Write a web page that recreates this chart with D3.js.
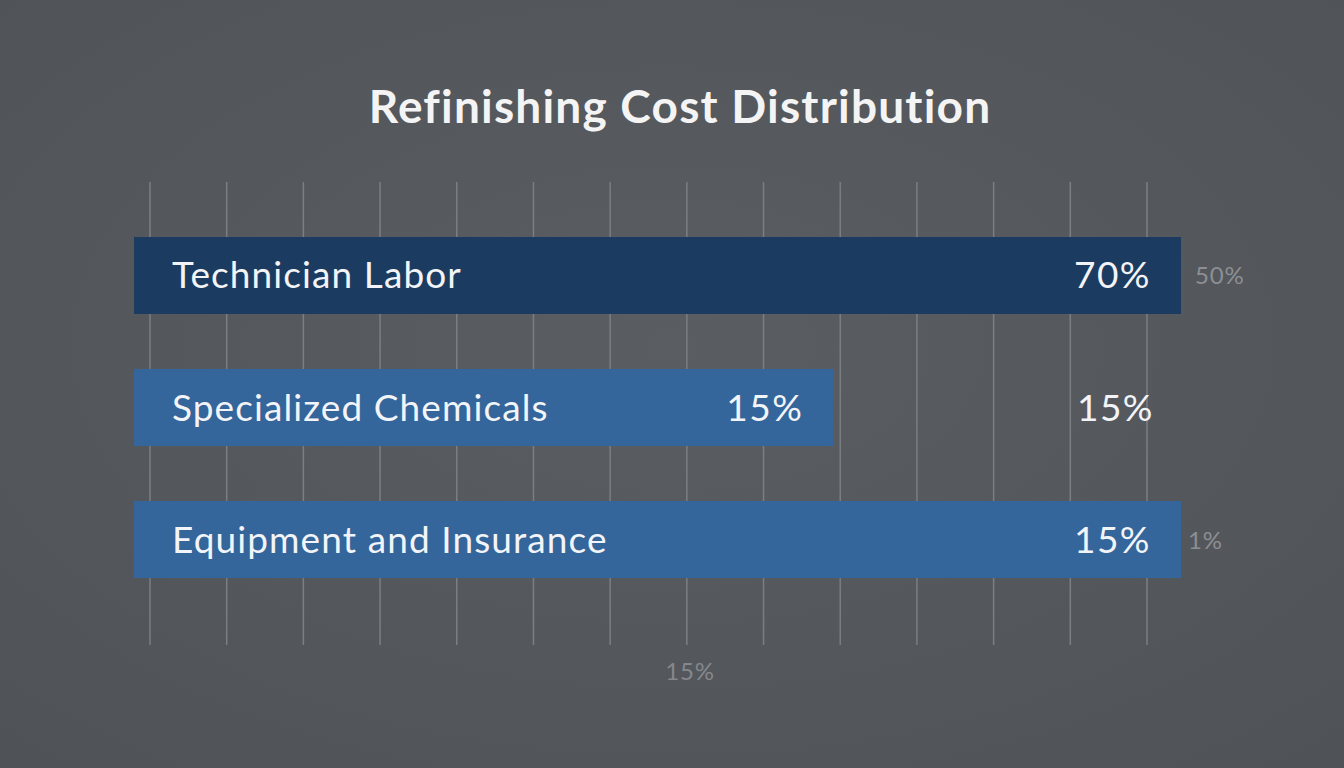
<!DOCTYPE html>
<html>
<head>
<meta charset="utf-8">
<script src="https://cdn.jsdelivr.net/npm/d3@7"></script>
<style>
  html, body { margin: 0; padding: 0; background: #55595e; }
  svg { display: block; font-family: Lato, "Open Sans", sans-serif; font-variant-ligatures: none; }
</style>
</head>
<body>
<svg id="chart" width="1344" height="768"></svg>
<script>
// values
var categories = ["Technician Labor", "Specialized Chemicals", "Equipment and Insurance"];
var barExtent = [100, 66.8, 100];          // bar length, % of the plot width
var valueLabels = ["70%", "15%", "15%"];   // printed at the bar end
var sideLabels = ["50%", "15%", "1%"];     // printed right of the bars
var sideStrong = [false, true, false];     // the middle one is white
var gridTicks = [0, 1, 2, 3, 4, 5, 6, 7, 8, 9, 10, 11, 12, 13];
var footLabel = "15%";
var title = "Refinishing Cost Distribution";

var svg = d3.select("#chart");
var W = 1344, H = 768;

// soft vignette background
var defs = svg.append("defs");
var rg = defs.append("radialGradient").attr("id", "bg")
    .attr("cx", "50%").attr("cy", "45%").attr("r", "75%");
rg.append("stop").attr("offset", "0%").attr("stop-color", "#5a5d62");
rg.append("stop").attr("offset", "100%").attr("stop-color", "#4f5358");
svg.append("rect").attr("width", W).attr("height", H).attr("fill", "url(#bg)");

var x = d3.scaleLinear().domain([0, 100]).range([134, 1181]);
var gx = d3.scaleLinear().domain([0, 13]).range([150, 1147]);
var y = d3.scaleBand().domain(categories).range([237, 578]).paddingInner(0.4167).paddingOuter(0);

svg.append("text")
    .attr("x", 680).attr("y", 123)
    .attr("text-anchor", "middle")
    .attr("fill", "#f4f4f4")
    .attr("font-size", 46).attr("font-weight", 700)
    .attr("letter-spacing", 1.2)
    .text(title);

svg.append("g").selectAll("line")
    .data(gridTicks)
    .enter()
    .append("line")
    .attr("x1", d => gx(d)).attr("x2", d => gx(d))
    .attr("y1", 182).attr("y2", 645)
    .attr("stroke", "#7b7e83")
    .attr("stroke-width", 1.5);

var rows = svg.append("g").selectAll("g")
    .data(categories)
    .enter()
    .append("g");

rows.append("rect")
    .attr("x", x(0))
    .attr("y", d => y(d))
    .attr("width", (d, i) => x(barExtent[i]) - x(0))
    .attr("height", y.bandwidth())
    .attr("fill", (d, i) => i === 0 ? "#1c3b60" : "#34659b");

rows.append("text")
    .attr("x", 172)
    .attr("y", d => y(d) + y.bandwidth() / 2 + 13)
    .attr("fill", "#f2f4f7")
    .attr("font-size", 37)
    .attr("letter-spacing", 1.1)
    .text(d => d);

rows.append("text")
    .attr("x", (d, i) => x(barExtent[i]) - 30)
    .attr("y", d => y(d) + y.bandwidth() / 2 + 13)
    .attr("text-anchor", "end")
    .attr("fill", "#f2f4f7")
    .attr("font-size", 37)
    .attr("letter-spacing", 1.5)
    .text((d, i) => valueLabels[i]);

rows.append("text")
    .attr("x", (d, i) => sideStrong[i] ? x(100) - 27 : x(100) + (i === 2 ? 7 : 14))
    .attr("y", (d, i) => y(d) + y.bandwidth() / 2 + (sideStrong[i] ? 13 : 9))
    .attr("text-anchor", (d, i) => sideStrong[i] ? "end" : "start")
    .attr("fill", (d, i) => sideStrong[i] ? "#f2f4f7" : "#8c8f93")
    .attr("font-size", (d, i) => sideStrong[i] ? 37 : 24)
    .attr("letter-spacing", (d, i) => sideStrong[i] ? 1.5 : 0.8)
    .text((d, i) => sideLabels[i]);

svg.append("text")
    .attr("x", 690).attr("y", 680)
    .attr("text-anchor", "middle")
    .attr("fill", "#85888c")
    .attr("font-size", 24)
    .attr("letter-spacing", 0.8)
    .text(footLabel);
</script>
</body>
</html>
